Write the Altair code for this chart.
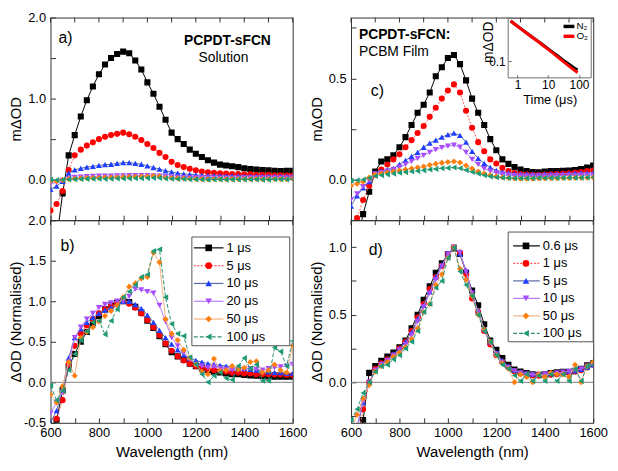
import altair as alt
import pandas as pd

# ---------------- data ----------------
WL = [600, 625, 650, 675, 700, 725, 750, 775, 800, 825, 850, 875, 900, 925, 950,
      975, 1000, 1025, 1050, 1075, 1100, 1125, 1150, 1175, 1200, 1225, 1250, 1275,
      1300, 1325, 1350, 1375, 1400, 1425, 1450, 1475, 1500, 1525, 1550, 1575, 1600]

NAMES_SOL = ["1 μs", "5 μs", "10 μs", "20 μs", "50 μs", "100 μs"]
NAMES_FILM = ["0.6 μs", "1 μs", "5 μs", "10 μs", "50 μs", "100 μs"]

# panel a (solution, mΔOD)
a_1us = [-1.30, -0.75, -0.17, 0.30, 0.55, 0.78, 0.98, 1.15, 1.30, 1.42, 1.50, 1.55, 1.58, 1.56, 1.47, 1.36, 1.20, 1.06, 0.90, 0.74, 0.58, 0.50, 0.44, 0.37, 0.32, 0.28, 0.24, 0.21, 0.185, 0.175, 0.165, 0.155, 0.14, 0.13, 0.125, 0.118, 0.114, 0.11, 0.107, 0.108, 0.11]
a_5us = [-0.38, -0.30, -0.14, 0.12, 0.30, 0.37, 0.42, 0.46, 0.50, 0.53, 0.55, 0.565, 0.58, 0.56, 0.53, 0.49, 0.44, 0.39, 0.33, 0.28, 0.22, 0.18, 0.155, 0.135, 0.115, 0.10, 0.09, 0.085, 0.08, 0.075, 0.07, 0.07, 0.065, 0.065, 0.06, 0.06, 0.06, 0.055, 0.055, 0.05, 0.05]
a_10us = [-0.12, -0.08, -0.02, 0.08, 0.12, 0.14, 0.155, 0.165, 0.175, 0.185, 0.19, 0.20, 0.21, 0.21, 0.20, 0.19, 0.17, 0.15, 0.13, 0.11, 0.095, 0.08, 0.07, 0.065, 0.06, 0.055, 0.05, 0.05, 0.05, 0.048, 0.047, 0.046, 0.045, 0.045, 0.044, 0.044, 0.043, 0.043, 0.042, 0.042, 0.042]
a_20us = [-0.05, -0.035, -0.01, 0.015, 0.027, 0.032, 0.036, 0.039, 0.042, 0.044, 0.045, 0.046, 0.047, 0.049, 0.051, 0.051, 0.05, 0.048, 0.043, 0.036, 0.03, 0.027, 0.025, 0.023, 0.022, 0.021, 0.021, 0.02, 0.02, 0.02, 0.02, 0.02, 0.021, 0.021, 0.021, 0.021, 0.022, 0.022, 0.022, 0.023, 0.023]
a_50us = [-0.02, -0.02, -0.005, 0.008, 0.012, 0.018, 0.02, 0.022, 0.024, 0.026, 0.027, 0.029, 0.031, 0.034, 0.036, 0.038, 0.039, 0.045, 0.043, 0.025, 0.02, 0.017, 0.014, 0.011, 0.009, 0.007, 0.006, 0.009, 0.007, 0.007, 0.008, 0.007, 0.008, 0.009, 0.009, 0.006, 0.007, 0.008, 0.007, 0.006, 0.01]
a_100us = [0.0, -0.005, -0.002, 0.003, 0.006, 0.008, 0.01, 0.011, 0.012, 0.01, 0.012, 0.014, 0.015, 0.016, 0.017, 0.018, 0.019, 0.022, 0.022, 0.015, 0.011, 0.009, 0.008, 0.005, 0.004, 0.002, 0.0, 0.002, 0.003, 0.001, 0.001, 0.003, 0.004, 0.003, 0.003, 0.001, 0.001, 0.005, 0.005, 0.003, 0.006]

# panel b (solution, normalised)
b_1us = [-0.80, -0.47, -0.10, 0.19, 0.35, 0.50, 0.62, 0.73, 0.82, 0.90, 0.95, 0.98, 1.00, 0.99, 0.93, 0.86, 0.76, 0.67, 0.57, 0.47, 0.37, 0.32, 0.28, 0.23, 0.20, 0.18, 0.15, 0.13, 0.12, 0.11, 0.10, 0.10, 0.09, 0.085, 0.08, 0.075, 0.072, 0.07, 0.068, 0.068, 0.07]
b_5us = [-0.60, -0.45, -0.22, 0.22, 0.45, 0.60, 0.70, 0.78, 0.85, 0.90, 0.94, 0.97, 1.00, 0.97, 0.92, 0.85, 0.77, 0.68, 0.58, 0.48, 0.39, 0.32, 0.27, 0.23, 0.20, 0.18, 0.16, 0.15, 0.14, 0.13, 0.12, 0.12, 0.11, 0.11, 0.10, 0.10, 0.10, 0.095, 0.095, 0.09, 0.09]
b_10us = [-0.50, -0.35, -0.08, 0.30, 0.55, 0.66, 0.74, 0.80, 0.85, 0.89, 0.92, 0.96, 1.00, 1.00, 0.96, 0.91, 0.83, 0.74, 0.64, 0.55, 0.47, 0.40, 0.34, 0.30, 0.27, 0.25, 0.23, 0.22, 0.21, 0.20, 0.19, 0.18, 0.17, 0.16, 0.15, 0.14, 0.13, 0.12, 0.12, 0.11, 0.11]
b_20us = [-0.38, -0.25, -0.12, 0.25, 0.55, 0.68, 0.78, 0.85, 0.92, 0.96, 0.98, 1.00, 1.00, 1.06, 1.15, 1.14, 1.12, 1.10, 0.95, 0.75, 0.55, 0.45, 0.36, 0.28, 0.22, 0.20, 0.18, 0.19, 0.17, 0.16, 0.15, 0.15, 0.16, 0.17, 0.16, 0.15, 0.17, 0.18, 0.19, 0.20, 0.22]
b_50us = [-0.15, -0.25, -0.05, 0.25, 0.08, 0.55, 0.62, 0.68, 0.75, 0.82, 0.88, 0.95, 1.05, 1.18, 1.22, 1.28, 1.30, 1.60, 1.48, 0.78, 0.60, 0.52, 0.40, 0.30, 0.22, 0.13, 0.10, 0.29, 0.14, 0.15, 0.20, 0.16, 0.18, 0.25, 0.26, 0.12, 0.15, 0.22, 0.15, 0.12, 0.45]
b_100us = [-0.04, -0.22, -0.10, 0.15, 0.35, 0.52, 0.63, 0.74, 0.76, 0.59, 0.76, 0.90, 1.05, 1.12, 1.20, 1.30, 1.33, 1.62, 1.64, 1.05, 0.72, 0.60, 0.57, 0.31, 0.22, 0.10, 0.00, 0.08, 0.12, 0.05, 0.03, 0.20, 0.30, 0.17, 0.22, 0.02, 0.02, 0.43, 0.38, 0.20, 0.51]

# panel c (PCBM film, mΔOD)
c_06us = [-0.45, -0.30, -0.17, -0.06, 0.04, 0.09, 0.10, 0.12, 0.16, 0.21, 0.27, 0.33, 0.37, 0.43, 0.51, 0.555, 0.60, 0.615, 0.57, 0.49, 0.40, 0.33, 0.27, 0.20, 0.145, 0.10, 0.078, 0.062, 0.05, 0.043, 0.038, 0.036, 0.04, 0.042, 0.043, 0.044, 0.045, 0.048, 0.052, 0.06, 0.07]
c_1us = [-0.30, -0.19, -0.10, -0.03, 0.025, 0.05, 0.075, 0.10, 0.125, 0.16, 0.195, 0.23, 0.265, 0.31, 0.355, 0.40, 0.44, 0.47, 0.43, 0.34, 0.256, 0.185, 0.14, 0.10, 0.08, 0.058, 0.042, 0.033, 0.028, 0.025, 0.024, 0.024, 0.025, 0.026, 0.028, 0.03, 0.032, 0.035, 0.038, 0.042, 0.045]
c_5us = [-0.13, -0.08, -0.04, -0.01, 0.033, 0.042, 0.05, 0.056, 0.075, 0.095, 0.115, 0.135, 0.16, 0.18, 0.195, 0.21, 0.222, 0.23, 0.218, 0.185, 0.14, 0.105, 0.08, 0.06, 0.046, 0.038, 0.033, 0.03, 0.028, 0.027, 0.027, 0.027, 0.028, 0.028, 0.029, 0.03, 0.031, 0.032, 0.033, 0.034, 0.035]
c_10us = [-0.10, -0.07, -0.035, -0.005, 0.028, 0.035, 0.042, 0.05, 0.062, 0.075, 0.09, 0.105, 0.12, 0.135, 0.148, 0.158, 0.165, 0.17, 0.16, 0.135, 0.10, 0.075, 0.055, 0.042, 0.033, 0.027, 0.023, 0.02, 0.019, 0.018, 0.018, 0.018, 0.019, 0.019, 0.02, 0.02, 0.021, 0.021, 0.022, 0.022, 0.023]
c_50us = [-0.03, -0.02, -0.01, 0.01, 0.025, 0.03, 0.035, 0.04, 0.045, 0.05, 0.055, 0.06, 0.065, 0.072, 0.078, 0.083, 0.087, 0.09, 0.085, 0.07, 0.055, 0.04, 0.03, 0.022, 0.016, 0.012, 0.008, 0.006, 0.005, 0.005, 0.005, 0.006, 0.006, 0.007, 0.007, 0.008, 0.008, 0.009, 0.009, 0.01, 0.011]
c_100us = [-0.005, -0.003, 0.0, 0.008, 0.018, 0.022, 0.026, 0.03, 0.034, 0.037, 0.04, 0.043, 0.046, 0.05, 0.053, 0.056, 0.058, 0.06, 0.056, 0.047, 0.038, 0.03, 0.022, 0.016, 0.012, 0.01, 0.008, 0.007, 0.007, 0.007, 0.007, 0.008, 0.008, 0.008, 0.009, 0.009, 0.01, 0.01, 0.01, 0.011, 0.012]

# panel d (PCBM film, normalised)
d_06us = [-0.70, -0.50, -0.28, 0.07, 0.12, 0.16, 0.19, 0.22, 0.26, 0.31, 0.40, 0.50, 0.61, 0.71, 0.81, 0.88, 0.95, 0.99, 0.95, 0.81, 0.68, 0.57, 0.43, 0.31, 0.24, 0.18, 0.13, 0.095, 0.08, 0.068, 0.06, 0.055, 0.06, 0.068, 0.075, 0.077, 0.078, 0.083, 0.10, 0.125, 0.14]
d_1us = [-0.60, -0.45, -0.20, 0.00, 0.10, 0.14, 0.17, 0.20, 0.25, 0.30, 0.38, 0.48, 0.58, 0.69, 0.78, 0.86, 0.94, 1.00, 0.96, 0.80, 0.62, 0.52, 0.38, 0.28, 0.20, 0.15, 0.11, 0.08, 0.065, 0.055, 0.05, 0.048, 0.05, 0.055, 0.06, 0.065, 0.07, 0.08, 0.09, 0.11, 0.13]
d_5us = [-0.50, -0.35, -0.15, 0.00, 0.09, 0.14, 0.17, 0.21, 0.25, 0.30, 0.37, 0.47, 0.57, 0.67, 0.78, 0.87, 0.95, 1.00, 0.95, 0.83, 0.66, 0.52, 0.40, 0.30, 0.22, 0.16, 0.12, 0.09, 0.075, 0.065, 0.06, 0.058, 0.06, 0.065, 0.07, 0.075, 0.08, 0.085, 0.095, 0.11, 0.13]
d_10us = [-0.45, -0.32, -0.14, 0.00, 0.09, 0.13, 0.16, 0.20, 0.24, 0.28, 0.35, 0.45, 0.56, 0.66, 0.76, 0.86, 0.95, 1.00, 0.96, 0.82, 0.66, 0.52, 0.38, 0.29, 0.21, 0.15, 0.11, 0.085, 0.07, 0.06, 0.055, 0.055, 0.06, 0.065, 0.07, 0.075, 0.08, 0.09, 0.10, 0.12, 0.13]
d_50us = [-0.35, -0.24, -0.12, -0.02, 0.08, 0.12, 0.15, 0.19, 0.22, 0.26, 0.32, 0.40, 0.52, 0.58, 0.72, 0.80, 0.92, 1.00, 0.84, 0.76, 0.64, 0.50, 0.39, 0.30, 0.20, 0.14, 0.10, 0.00, 0.06, 0.04, 0.00, 0.06, 0.04, 0.07, 0.06, 0.06, 0.04, 0.13, 0.00, 0.12, 0.15]
d_100us = [-0.28, -0.20, -0.08, 0.00, 0.08, 0.12, 0.13, 0.17, 0.20, 0.25, 0.30, 0.38, 0.52, 0.58, 0.70, 0.75, 0.92, 1.00, 0.82, 0.72, 0.64, 0.50, 0.38, 0.30, 0.20, 0.13, 0.10, 0.05, 0.01, 0.06, 0.01, 0.05, 0.01, 0.06, 0.01, 0.06, 0.01, 0.10, 0.01, 0.12, 0.13]

# inset (kinetics, log-log)
T_US = [0.6, 0.8, 1, 1.5, 2, 3, 5, 7, 10, 15, 20, 30, 50, 70, 90]
N2 = [0.72, 0.62, 0.56, 0.46, 0.40, 0.33, 0.26, 0.22, 0.185, 0.152, 0.132, 0.108, 0.085, 0.073, 0.066]
O2 = [0.72, 0.62, 0.555, 0.455, 0.395, 0.325, 0.255, 0.215, 0.18, 0.146, 0.126, 0.102, 0.078, 0.066, 0.058]
INSET_NAMES = ["N₂", "O₂"]
INSET_T_RANGE = [0.5, 250]
INSET_V_RANGE = [0.045, 0.85]

X_TICKS = [600, 700, 800, 900, 1000, 1100, 1200, 1300, 1400, 1500, 1600]

# ---------------- style ----------------
FONT = "Liberation Sans"
W, H = 245, 205
SHAPES = ["square", "circle", "triangle-up", "triangle-down", "diamond", "triangle-left"]
PT_COLORS = ["#000000", "#ff0000", "#1f3fff", "#a64dff", "#ff7f0e", "#1e9a74"]
LN_COLORS = ["#000000", "#ff5a5a", "#5a6aa8", "#b57cff", "#f6b27e", "#2a9070"]
LN_DASH = [None, [2, 1.5], None, None, None, [4, 2]]
FRAME = "#333333"
INSET_FRAME = "#6e6e6e"

ONE = pd.DataFrame({"k": [0]})
XS = alt.Scale(domain=[600, 1600], nice=False, zero=False)


def lbl_expr(step):
    return ("abs(datum.value / %g - round(datum.value / %g)) < 0.001 ? "
            "replace(format(datum.value, '.1f'), '\u2212', '-') : ''" % (step, step))


def x_enc(show):
    ax = dict(values=X_TICKS, offset=-5, tickSize=5, labelFlush=False, labelOverlap=False,
              grid=False, domain=False, tickColor=FRAME)
    if show:
        ax.update(labelExpr="datum.value % 200 == 0 ? datum.label : ''", format="d",
                  labelPadding=4, titlePadding=5)
        return alt.X("wl:Q", scale=XS, axis=alt.Axis(**ax), title="Wavelength (nm)")
    ax.update(labels=False)
    return alt.X("wl:Q", scale=XS, axis=alt.Axis(**ax), title=None)


def y_enc(dom, ticks, step, title):
    return alt.Y("v:Q", scale=alt.Scale(domain=dom, nice=False, zero=False), title=title,
                 axis=alt.Axis(values=ticks, labelExpr=lbl_expr(step), offset=-5, tickSize=5,
                               labelPadding=5, titleX=-32, titleAngle=270, titleBaseline="bottom",
                               labelOverlap=False, grid=False, domain=False, tickColor=FRAME))


def text_layer(txt, x, y, size=14, bold=False, align="left", angle=0):
    return alt.Chart(ONE).mark_text(text=txt, font=FONT, fontSize=size,
                                    fontWeight="bold" if bold else "normal", angle=angle,
                                    align=align, baseline="middle", color="black").encode(
        x=alt.value(x), y=alt.value(y))


def rule_px(x1, x2, y1, y2, color, width):
    return alt.Chart(ONE).mark_rule(color=color, strokeWidth=width).encode(
        x=alt.value(x1), x2=alt.value(x2), y=alt.value(y1), y2=alt.value(y2))


def legend_layers(names, box, row0, step, line_x, mark_x, label_x):
    out = [alt.Chart(ONE).mark_rect(fill="white", stroke="#555555", strokeWidth=1).encode(
        x=alt.value(box[0]), x2=alt.value(box[1]), y=alt.value(box[2]), y2=alt.value(box[3]))]
    for i, name in enumerate(names):
        yy = row0 + step * i
        kw = dict(color=LN_COLORS[i], strokeWidth=1.2)
        if LN_DASH[i]:
            kw["strokeDash"] = LN_DASH[i]
        out.append(alt.Chart(ONE).mark_rule(**kw).encode(
            x=alt.value(line_x[0]), x2=alt.value(line_x[1]), y=alt.value(yy)))
        out.append(alt.Chart(ONE).mark_point(shape=SHAPES[i], filled=True, size=45,
                                             color=PT_COLORS[i], opacity=1).encode(
            x=alt.value(mark_x), y=alt.value(yy)))
        out.append(text_layer(name, label_x, yy, size=13))
    return out


def panel_layers(series, ydom, yticks, ystep, ytitle, show_x, zero):
    X = x_enc(show_x)
    Y = y_enc(ydom, yticks, ystep, ytitle)
    layers = []
    if zero:
        layers.append(alt.Chart(pd.DataFrame({"v": [0]})).mark_rule(
            color="#808080", strokeWidth=1).encode(y=Y))
    layers.append(alt.Chart(pd.DataFrame({"wl": X_TICKS})).mark_rule(
        color=FRAME, strokeWidth=1).encode(x=X, y=alt.value(0), y2=alt.value(5)))
    for i, vals in enumerate(series):
        df = pd.DataFrame({"wl": WL, "v": vals})
        kw = dict(color=LN_COLORS[i], strokeWidth=1, clip=True)
        if LN_DASH[i]:
            kw["strokeDash"] = LN_DASH[i]
        layers.append(alt.Chart(df).mark_line(**kw).encode(x=X, y=Y))
        layers.append(alt.Chart(df).mark_point(shape=SHAPES[i], filled=True, size=38,
                                               color=PT_COLORS[i], opacity=1,
                                               clip=True).encode(x=X, y=Y))
    return layers


# ---------------- panel a ----------------
la = panel_layers([a_1us, a_5us, a_10us, a_20us, a_50us, a_100us], [-0.5, 2.0],
                  [-0.5, 0, 0.5, 1.0, 1.5, 2.0], 1.0, "mΔOD", False, False)
la += [text_layer("a)", 8, 21, size=16),
       text_layer("PCPDT-sFCN", 179, 24, size=14, bold=True, align="center"),
       text_layer("Solution", 175, 41, size=14, align="center")]
pa = alt.layer(*la).properties(width=W, height=H)

# ---------------- panel b ----------------
lb = panel_layers([b_1us, b_5us, b_10us, b_20us, b_50us, b_100us], [-0.5, 2.0],
                  [-0.5, 0, 0.5, 1.0, 1.5, 2.0], 0.5, "ΔOD (Normalised)", True, True)
lb += [text_layer("b)", 10, 26, size=16)]
lb += legend_layers(NAMES_SOL, (143, 242, 17, 127), 28, 18, (145, 175), 160, 178)
pb = alt.layer(*lb).properties(width=W, height=H)

# ---------------- panel c with inset ----------------
lc = panel_layers([c_06us, c_1us, c_5us, c_10us, c_50us, c_100us], [-0.2, 0.8],
                  [0, 0.25, 0.5, 0.75], 0.5, "mΔOD", False, False)
lc += [text_layer("PCPDT-sFCN:", 8, 18, size=14, bold=True),
       text_layer("PCBM Film", 8, 35, size=14),
       text_layer("c)", 20, 74, size=16)]
# inset frame and inset y title (pixel positions inside panel c)
lc += [rule_px(159, 243, 1, 1, INSET_FRAME, 1),
       rule_px(159, 243, 61, 61, INSET_FRAME, 1),
       rule_px(159, 159, 0, 61, INSET_FRAME, 1),
       rule_px(243, 243, 0, 61, INSET_FRAME, 1),
       text_layer("mΔOD", 140, 25, size=14, align="center", angle=270)]
main_c = alt.layer(*lc)

IX = alt.X("t:Q", scale=alt.Scale(type="log", domain=INSET_T_RANGE, range=[159, 243], nice=False),
           title="Time (μs)",
           axis=alt.Axis(orient="bottom", offset=-147, tickSize=3, values=[1, 10, 100], format="d",
                         labelFontSize=12, titleFontSize=13, labelPadding=2, titlePadding=3,
                         grid=False, domain=False, labelFlush=False, tickColor="#666666"))
IY = alt.Y("v:Q", scale=alt.Scale(type="log", domain=INSET_V_RANGE, range=[61, 0], nice=False),
           title=None,
           axis=alt.Axis(orient="left", offset=-162, tickSize=3, values=[0.1], format=".1f",
                         labelFontSize=12, labelPadding=3,
                         grid=False, domain=False, tickColor="#666666"))
inset_layers = []
for vals, col in zip([N2, O2], ["#000000", "#ff0000"]):
    inset_layers.append(alt.Chart(pd.DataFrame({"t": T_US, "v": vals})).mark_line(
        color=col, strokeWidth=3, clip=True).encode(x=IX, y=IY))
for j, (nm, col) in enumerate(zip(INSET_NAMES, ["#000000", "#ff0000"])):
    yy = 9 + 10 * j
    inset_layers.append(rule_px(215, 226, yy, yy, col, 3.5))
    inset_layers.append(text_layer(nm, 228, yy, size=10))
inset = alt.layer(*inset_layers)
pc = alt.layer(main_c, inset).resolve_scale(x="independent", y="independent").properties(
    width=W, height=H)

# ---------------- panel d ----------------
ld = panel_layers([d_06us, d_1us, d_5us, d_10us, d_50us, d_100us], [-0.3, 1.2],
                  [-0.25, 0, 0.25, 0.5, 0.75, 1.0], 0.5, "ΔOD (Normalised)", True, True)
ld += [text_layer("d)", 18, 30, size=16)]
ld += legend_layers(NAMES_FILM, (159, 245, 12, 123), 26, 17.7, (164, 191), 177, 194)
pd_ = alt.layer(*ld).properties(width=W, height=H)

chart = alt.concat(pa, pc, pb, pd_, columns=2, spacing={"row": 0, "column": 59},
                   bounds="flush").properties(
    padding={"left": 0, "top": 0, "right": 2, "bottom": 2}
).configure_view(stroke=FRAME, strokeWidth=1).configure_axis(
    labelFont=FONT, titleFont=FONT, labelFontSize=13, titleFontSize=15,
    titleFontWeight="normal", labelColor="black", titleColor="black"
).configure_text(font=FONT)

chart.save("out.html", embed_options={"renderer": "svg", "actions": False})
